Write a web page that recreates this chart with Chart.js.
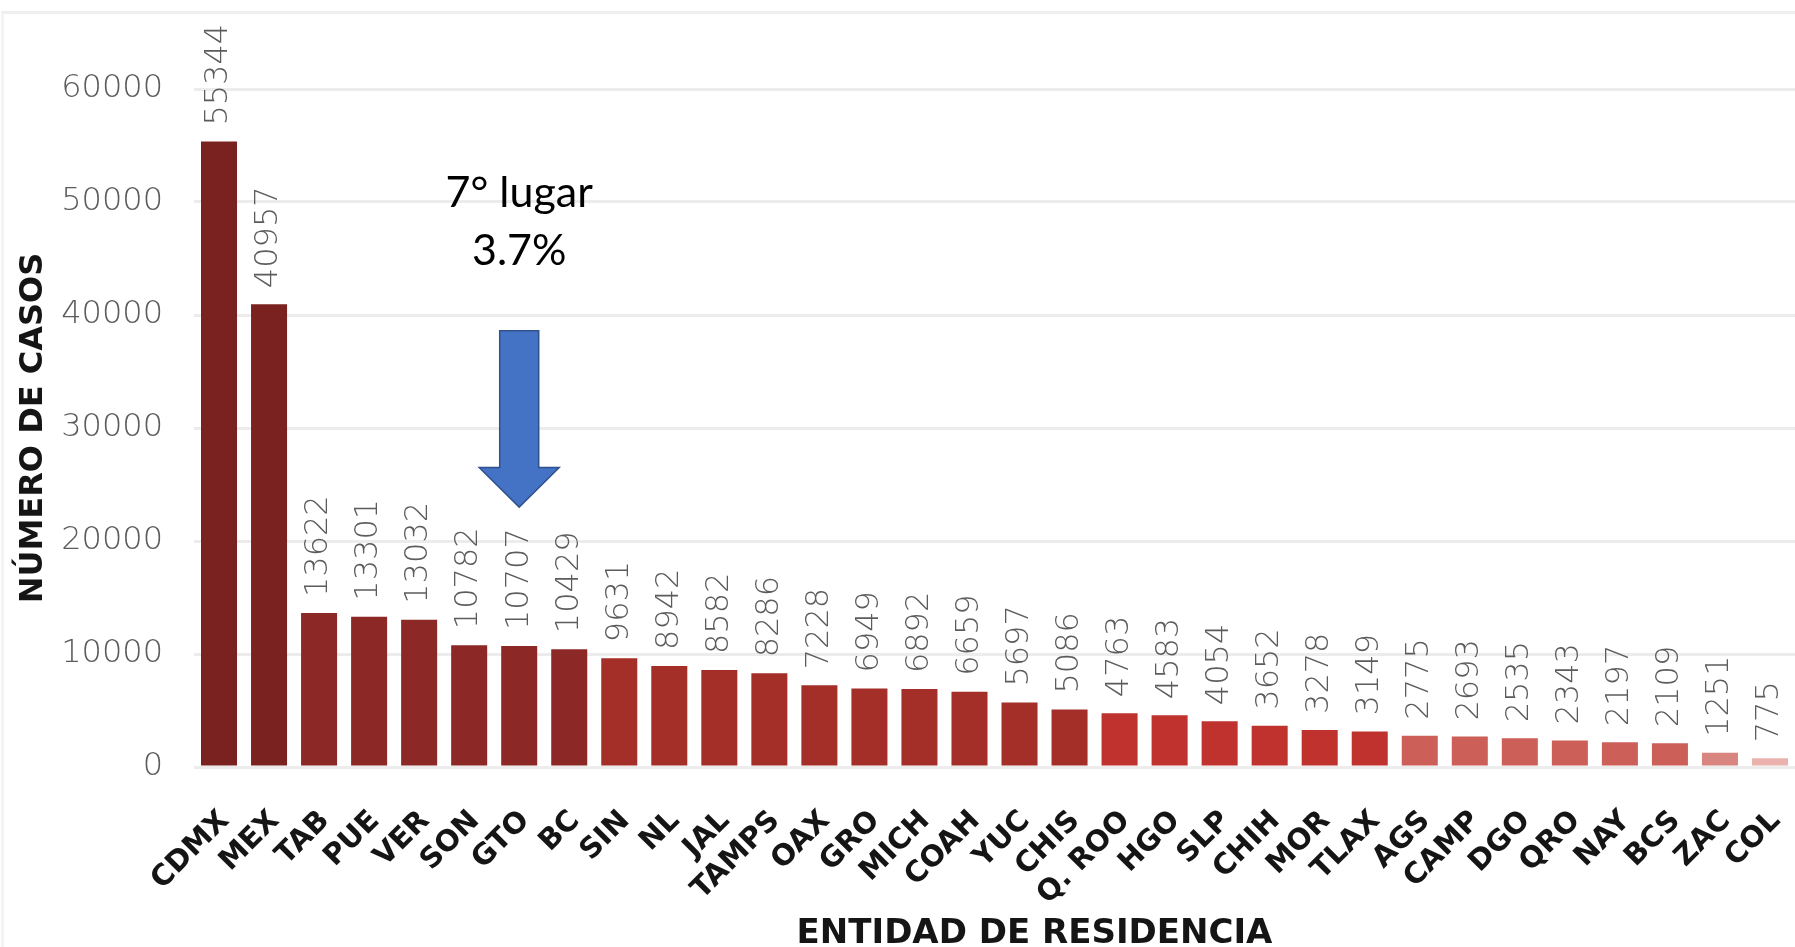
<!DOCTYPE html>
<html lang="es">
<head>
<meta charset="utf-8">
<title>Casos por entidad de residencia</title>
<script src="https://cdn.jsdelivr.net/npm/chart.js@4.4.1/dist/chart.umd.min.js"></script>
<style>
html,body{margin:0;padding:0;background:#fff;overflow:hidden;}
#wrap{position:relative;width:1795px;height:947px;}
#frame{position:absolute;left:1px;top:11px;right:0;bottom:0;border-top:3px solid #efefef;border-left:3px solid #f4f4f4;}
canvas{position:absolute;left:0;top:0;}
</style>
</head>
<body>
<div id="wrap"><div id="frame"></div><canvas id="chart" width="1795" height="947"></canvas></div>
<script>
'use strict';

/* ── 1. DATOS ── */
const ESTADOS=['CDMX','MEX','TAB','PUE','VER','SON','GTO','BC','SIN','NL','JAL','TAMPS','OAX','GRO','MICH','COAH',
  'YUC','CHIS','Q. ROO','HGO','SLP','CHIH','MOR','TLAX','AGS','CAMP','DGO','QRO','NAY','BCS','ZAC','COL'];
const CASOS=[55344,40957,13622,13301,13032,10782,10707,10429,9631,8942,8582,8286,7228,6949,6892,6659,
  5697,5086,4763,4583,4054,3652,3278,3149,2775,2693,2535,2343,2197,2109,1251,775];
const Y_TICKS=[0,10000,20000,30000,40000,50000,60000];
const DESTACADO='GTO';
const NOTA=['7° lugar','3.7%'];
const TITULO_X='ENTIDAD DE RESIDENCIA';

/* ── 2. ESTILO ── */
// tonos por grupo de barras: [color, cuantas]
const TONOS=[['#7a2220',2],['#8c2826',6],['#a42e28',10],['#bf322d',6],['#cc5f58',6],['#d9857f',1],['#ebb1ad',1]];
const BAR_COLORS=[];
TONOS.forEach(([c,n])=>{for(let i=0;i<n;i++)BAR_COLORS.push(c);});

// nota y flecha en unidades del eje Y
const FLECHA={tope:38600,cuello:26500,punta:23000,cuerpo:39,cabeza:80};
const NOTA_Y=[49600,44400];

const NUM_FAMILY='DejaVu Sans';
const NUM_FONT='200 32px "DejaVu Sans"';
const BOLD='DejaVu Sans';

/* ── 3. PLUGINS ── */
const etiquetas={
  id:'etiquetas',
  afterDatasetsDraw(chart){
    const {ctx}=chart;
    const meta=chart.getDatasetMeta(0);
    ctx.save();
    ctx.font=NUM_FONT;
    ctx.fillStyle='#5c5c5c';
    ctx.textAlign='left';ctx.textBaseline='middle';
    meta.data.forEach((bar,i)=>{
      ctx.save();
      ctx.translate(bar.x,bar.y-16);
      ctx.rotate(-Math.PI/2);
      ctx.fillText(String(CASOS[i]),0,0);
      ctx.restore();
    });
    ctx.restore();
  }
};

const flecha={
  id:'flecha',
  afterDraw(chart){
    const {ctx,chartArea,scales:{x:xs,y:ys}}=chart;
    const x=xs.getPixelForValue(ESTADOS.indexOf(DESTACADO));
    const yT=ys.getPixelForValue(FLECHA.tope);
    const yN=ys.getPixelForValue(FLECHA.cuello);
    const yP=ys.getPixelForValue(FLECHA.punta);
    const b=FLECHA.cuerpo/2,h=FLECHA.cabeza/2;
    ctx.save();
    ctx.beginPath();
    ctx.moveTo(x-b,yT);ctx.lineTo(x+b,yT);ctx.lineTo(x+b,yN);ctx.lineTo(x+h,yN);
    ctx.lineTo(x,yP);ctx.lineTo(x-h,yN);ctx.lineTo(x-b,yN);ctx.closePath();
    ctx.fillStyle='#4472c4';ctx.fill();
    ctx.lineWidth=1.5;ctx.strokeStyle='#2f528f';ctx.stroke();
    ctx.font='43px Lato';
    ctx.fillStyle='#000';
    ctx.textAlign='center';ctx.textBaseline='alphabetic';
    NOTA.forEach((t,i)=>ctx.fillText(t,x,ys.getPixelForValue(NOTA_Y[i])));
    // titulo del eje X (la imagen original estaba recortada a la derecha)
    ctx.font='bold 34px "'+BOLD+'"';
    ctx.fillStyle='#151515';
    ctx.textBaseline='middle';
    ctx.fillText(TITULO_X,(chartArea.left+chartArea.right)/2+40,chart.height-13);
    ctx.restore();
  }
};

/* ── 4. GRAFICA ── */
new Chart(document.getElementById('chart'),{
  type:'bar',
  data:{
    labels:ESTADOS,
    datasets:[{
      data:CASOS,
      backgroundColor:BAR_COLORS,
      borderWidth:0,
      barPercentage:0.9,
      categoryPercentage:0.8
    }]
  },
  options:{
    responsive:false,
    devicePixelRatio:1,
    animation:false,
    layout:{padding:{top:89,left:0,right:0,bottom:0}},
    plugins:{legend:{display:false},tooltip:{enabled:false}},
    scales:{
      x:{
        grid:{display:false,drawTicks:false},
        border:{display:false},
        ticks:{autoSkip:false,maxRotation:45,minRotation:45,padding:37,labelOffset:6,color:'#151515',
          font:{family:BOLD,weight:'bold',size:29}},
        afterFit(s){s.height=180;s.paddingLeft=0;s.paddingRight=0;}
      },
      y:{
        min:0,max:60000,
        afterBuildTicks(axis){axis.ticks=Y_TICKS.map(v=>({value:v}));},
        grid:{color:'#ececec',lineWidth:3,drawTicks:false},
        border:{display:false},
        ticks:{padding:31,color:'#5c5c5c',callback:v=>String(v),
          font:{family:NUM_FAMILY,weight:'200',size:32}},
        title:{display:true,text:'NÚMERO DE CASOS',color:'#151515',padding:{top:14,bottom:0},
          font:{family:BOLD,weight:'bold',size:32}},
        afterFit(s){s.width=194;}
      }
    }
  },
  plugins:[etiquetas,flecha]
});
</script>
</body>
</html>
